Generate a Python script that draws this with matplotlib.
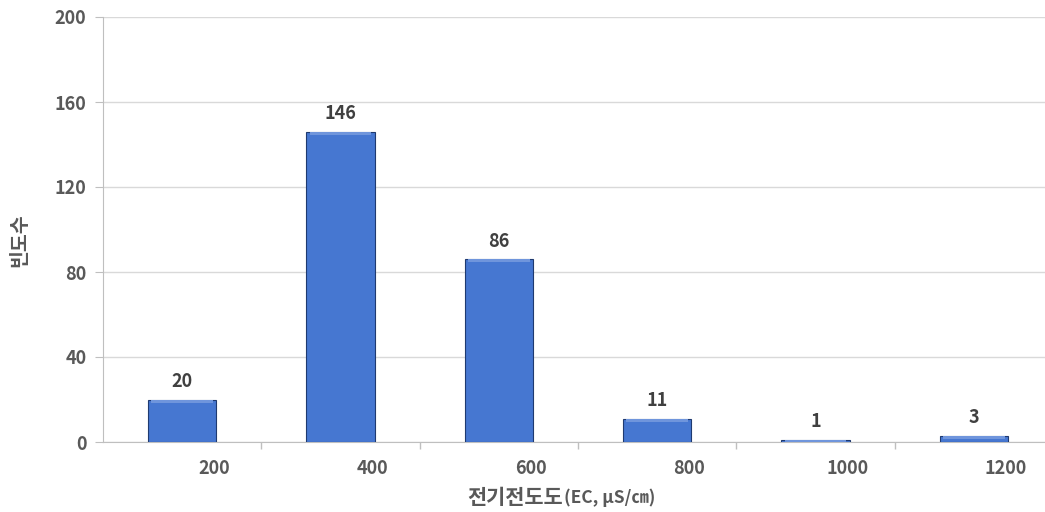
import matplotlib
matplotlib.use("Agg")
import matplotlib.pyplot as plt
import numpy as np

plt.rcParams['font.family'] = ['Noto Sans CJK KR', 'DejaVu Sans']

categories = ['200', '400', '600', '800', '1000', '1200']
counts = [20, 146, 86, 11, 1, 3]
y_ticks = [0, 40, 80, 120, 160, 200]

text_gray = '#595959'
grid_gray = '#d9d9d9'
bar_blue = '#4677d1'

fig = plt.figure(figsize=(10.45, 5.12), dpi=100)
ax = fig.add_axes([103/1045, 1 - 442/512, 950/1045, 425/512])

x = np.arange(len(categories))
ax.bar(x, counts, width=0.43, color=bar_blue, edgecolor='#1f3a70',
       linewidth=0.8, zorder=3)
# soft light strip on top of each bar, like the bevel in the original
strip = [min(c, 1.5) for c in counts]
ax.bar(x, strip, bottom=[c - s for c, s in zip(counts, strip)],
       width=0.39, color='#6f95dc', linewidth=0, zorder=4)

for xi, c in zip(x, counts):
    ax.text(xi, c + 4, str(c), ha='center', va='bottom', fontsize=13,
            fontweight='bold', color='#404040')

ax.set_xlim(-0.5, len(categories) - 0.5)
ax.set_ylim(0, 200)
ax.set_yticks(y_ticks)
ax.grid(axis='y', color=grid_gray, linewidth=1, zorder=0)

# category labels sit to the right of each bar
ax.set_xticks(x + 0.2)
ax.set_xticklabels(categories)
ax.tick_params(axis='x', which='major', length=0, pad=12)
ax.set_xticks(np.arange(len(categories)) + 0.5, minor=True)
ax.tick_params(axis='x', which='minor', length=5, color='#bfbfbf', width=1)
ax.tick_params(axis='y', length=6, color='#bfbfbf', pad=6)

for lab in ax.get_xticklabels() + ax.get_yticklabels():
    lab.set_fontsize(13)
    lab.set_fontweight('bold')
    lab.set_color(text_gray)

for side in ['top', 'right']:
    ax.spines[side].set_visible(False)
ax.spines['left'].set_color('#bfbfbf')
ax.spines['bottom'].set_color('#bfbfbf')

fig.text(563/1045, 1 - 497/512, '전기전도도', ha='right', va='center',
         fontsize=15, fontweight='bold', color=text_gray)
fig.text(564/1045, 1 - 498/512, '(EC, µS/㎝)', ha='left', va='center',
         fontsize=12.5, fontweight='bold', color=text_gray)
fig.text(20/1045, 1 - 240/512, '빈도수', ha='center', va='center', rotation=90,
         fontsize=14, fontweight='bold', color=text_gray)

fig.savefig('out.png', dpi=100)
